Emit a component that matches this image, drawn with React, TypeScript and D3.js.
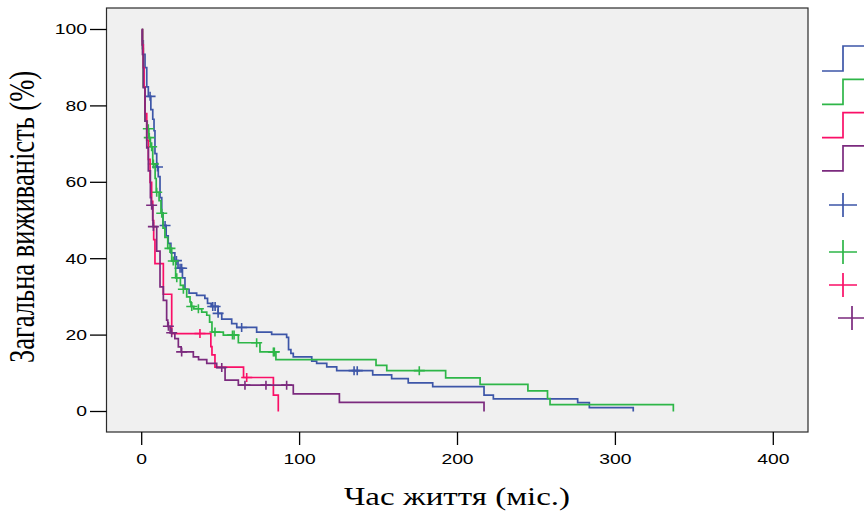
import * as d3 from 'd3';

// step points: [time (months), survival % after the drop]
const blueSteps = [
  [0.5, 97], [1, 93.5], [2.1, 90], [3.2, 85], [4.2, 82.5], [5.8, 79], [7, 76.5], [7.8, 73.5],
  [8.4, 67.5], [9.5, 64], [10.5, 61.5], [11.6, 56], [12.7, 52], [13.5, 48.7], [15.5, 46],
  [16.8, 44], [18.5, 41.5], [21, 39.5], [23, 37.5], [25.8, 35], [27.4, 32], [30, 31],
  [34.8, 30.4], [40, 29.6], [41.7, 28.3], [44, 27.5], [48.4, 25.7], [50.7, 24.2], [57, 23],
  [60.2, 22], [72.8, 20.8], [82.3, 20.2], [91.8, 19.4], [93, 16.2], [94.5, 15.2], [96, 14.3],
  [107.7, 13.2], [110.8, 12.6], [117.2, 11.7], [123.5, 10.7], [146.3, 9.6], [158.3, 8.6],
  [168.8, 7.5], [184.3, 6.5], [216.8, 4.3], [222.7, 3.3], [276.1, 2.3], [283.5, 1.0], [311.3, 0],
];
const blueCensored = [5.3, 10.0, 14.8, 22, 24.3, 25.3, 45, 46.5, 48.4, 63.3, 134.5, 136.5];

const greenSteps = [
  [0.5, 95], [1, 85], [2.1, 76], [3.5, 74], [4.5, 71.7], [5.5, 69.3], [7, 64.8], [8.5, 61],
  [9.2, 57.4], [11, 55.2], [12.2, 51.9], [13.5, 48], [14.7, 45.6], [16.5, 42.7], [19, 39.4],
  [21.5, 35], [24.5, 33], [26.4, 32], [28.5, 30], [30.6, 28.7], [31.2, 27.5], [33, 26.9],
  [38, 26], [41.2, 25.2], [43, 23.4], [44.5, 20.8], [51.7, 20], [61.2, 18], [74.9, 15.6],
  [85, 13.6], [148.4, 12.1], [155.2, 10.7], [192.5, 8.8], [214.3, 7.1], [244.6, 5.4],
  [257, 3.4], [258.6, 1.8], [336.7, 0],
];
const greenCensored = [4.2, 4.8, 6.3, 7.4, 9.5, 12.7, 17.9, 20, 22.2, 26.4, 31.7, 35.9, 46.4, 57.5, 58.5, 72.8, 83.4, 84.0, 175.8];

const redSteps = [
  [0.5, 96], [1, 90], [1.5, 85], [2.1, 78], [3.2, 71], [4.2, 66], [5.3, 60], [6.3, 55],
  [7, 50], [7.6, 45], [8.4, 38.7], [13.7, 30.7], [19, 20.4], [43.8, 17], [44.5, 14.8],
  [46.4, 11.6], [64.5, 8.9], [83.4, 4.3], [86.5, 0],
];
const redCensored = [36.9, 66.5];

const purpleSteps = [
  [0.3, 96], [0.5, 93.5], [1, 84.8], [2.1, 76], [3.2, 69], [4.2, 63], [5.5, 56], [6, 54],
  [7, 50], [7.2, 48.4], [9.5, 42], [11.6, 32.6], [13.7, 29.1], [15.8, 23.9], [16.5, 22.3],
  [18, 20.6], [21, 19.1], [23.2, 16.9], [25, 15.6], [32.7, 14.3], [36, 13.6], [41.2, 12.6],
  [47.5, 11.5], [52.8, 8.2], [61.2, 6.9], [96, 4.6], [125.2, 2.4], [216.8, 0],
];
const purpleCensored = [6.3, 7.4, 16.9, 19, 25.3, 50.7, 65.4, 78.7, 91.8];

const xTicks = [0, 100, 200, 300, 400];
const yTicks = [0, 20, 40, 60, 80, 100];

const series = [
  { name: 'blue', color: '#3d56a8', steps: blueSteps, censored: blueCensored },
  { name: 'green', color: '#2eb648', steps: greenSteps, censored: greenCensored },
  { name: 'red', color: '#fa0f67', steps: redSteps, censored: redCensored },
  { name: 'purple', color: '#7b2a7e', steps: purpleSteps, censored: purpleCensored },
];

const x = d3.scaleLinear().domain([0, 400]).range([141.7, 773.3]);
const y = d3.scaleLinear().domain([0, 100]).range([411.5, 29.5]);
const frame = { left: 106.5, right: 808, top: 8, bottom: 432 };
const stretch = 1.38; // the whole picture is widened horizontally

const line = d3.line<number[]>()
  .x(d => x(d[0]))
  .y(d => y(d[1]))
  .curve(d3.curveStepAfter);

function survivalAt(steps: number[][], t: number) {
  let s = 100;
  for (const st of steps) if (st[0] <= t) s = st[1];
  return s;
}

export default function App() {
  const sans = "'Liberation Sans', Arial, sans-serif";
  const serif = "'Liberation Serif', 'Times New Roman', serif";
  return (
    <svg width={864} height={514} style={{ position: 'absolute', left: 0, top: 0, background: '#fff' }}>
      <rect x={frame.left} y={frame.top} width={frame.right - frame.left} height={frame.bottom - frame.top}
        fill="#f0f0f0" stroke="#2b2b2b" strokeWidth={1.2} />

      {yTicks.map(t => (
        <g key={'y' + t}>
          <line x1={90} x2={frame.left} y1={y(t)} y2={y(t)} stroke="#000" strokeWidth={1.3} />
          <text transform={`translate(87,${y(t)}) scale(${stretch},1)`} textAnchor="end" dy="0.35em"
            fontFamily={sans} fontSize={14} fill="#000">{t}</text>
        </g>
      ))}
      {xTicks.map(t => (
        <g key={'x' + t}>
          <line x1={x(t)} x2={x(t)} y1={frame.bottom} y2={445} stroke="#000" strokeWidth={1.3} />
          <text transform={`translate(${x(t)},464) scale(${stretch},1)`} textAnchor="middle"
            fontFamily={sans} fontSize={14} fill="#000">{t}</text>
        </g>
      ))}

      {series.map(s => (
        <g key={s.name}>
          <path d={line([[0, 100], ...s.steps]) || ''} fill="none" stroke={s.color} strokeWidth={1.7} />
          {s.censored.map((t, i) => {
            const cx = x(t), cy = y(survivalAt(s.steps, t));
            return (
              <path key={i} d={`M${cx - 5.5},${cy}H${cx + 5.5}M${cx},${cy - 4.5}V${cy + 4.5}`}
                stroke={s.color} strokeWidth={1.6} fill="none" />
            );
          })}
        </g>
      ))}

      <text transform={`translate(457,505) scale(1.32,1)`} textAnchor="middle"
        fontFamily={serif} fontSize={25} fill="#000">Час життя (міс.)</text>
      <text transform={`translate(34,217) rotate(-90) scale(1,1.32)`} textAnchor="middle"
        fontFamily={serif} fontSize={26.5} fill="#000">Загальна виживаність (%)</text>

      {series.map((s, i) => {
        const top = 46 + i * 33.3;
        return (
          <path key={'leg' + s.name} d={`M822,${top + 25}H843V${top}H870`} fill="none"
            stroke={s.color} strokeWidth={1.7} />
        );
      })}
      {series.map((s, i) => {
        const cy = [205, 252, 285, 318][i];
        const cx = i === 3 ? 852 : 843;
        return (
          <path key={'lc' + s.name} d={`M${cx - 14},${cy}H${cx + 14}M${cx},${cy - 12}V${cy + 12}`}
            fill="none" stroke={s.color} strokeWidth={1.7} />
        );
      })}
    </svg>
  );
}
